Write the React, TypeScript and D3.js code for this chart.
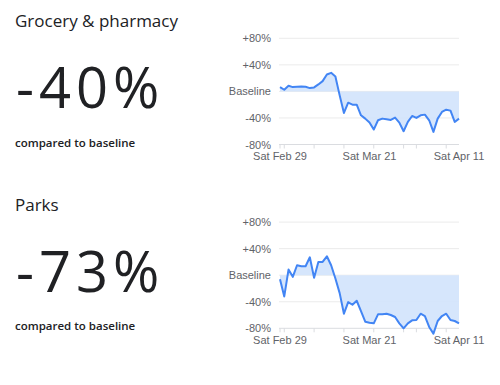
import React, { useEffect, useRef } from 'react';
import * as d3 from 'd3';

// daily values, Sat Feb 29 .. Sat Apr 11 (percent change vs baseline)
const groceryValues = [
  6.5, 2.5, 8.5, 6.5, 7, 7.5, 7, 5, 6, 10.5, 15.5, 25.5, 28, 22.5,
  -6, -32.5, -17, -20, -20, -36, -41, -47, -57.5, -43.5, -41, -42, -43, -39.5,
  -47, -60, -46, -37, -40, -36, -35, -43.5, -61, -41, -31, -27.5, -29, -46, -41,
];
const parksValues = [
  -6, -32, 8.5, -2.5, 15, 13.5, 13.5, 27, -4, 20, 20, 28.5, 15, -5,
  -27, -58, -40.5, -44.5, -38.5, -54, -70, -71.5, -72.5, -59, -59, -58, -60, -63,
  -72.5, -80, -72.5, -68, -67.5, -58, -61.5, -78, -88, -69, -61.5, -58, -67.5, -69, -72.5,
];
const panelTitles = ['Grocery & pharmacy', 'Parks'];
const panelHeadlines = ['-40%', '-73%'];
const yTicks = [80, 40, 0, -40, -80];
const yTickLabels = ['+80%', '+40%', 'Baseline', '-40%', '-80%'];
const xLabelDates = ['2020-02-29', '2020-03-21', '2020-04-11'];

const startDate = new Date(2020, 1, 29);
const endDate = new Date(2020, 3, 11);

const App = () => {
  const ref = useRef<SVGSVGElement>(null);

  useEffect(() => {
    const svg = d3.select(ref.current);
    svg.selectAll('*').remove();

    const days = d3.timeDay.range(startDate, d3.timeDay.offset(endDate, 1));
    const weeks = d3.timeDay.every(7)!.range(startDate, d3.timeDay.offset(endDate, 1));
    const parse = d3.timeParse('%Y-%m-%d');
    const fmt = d3.timeFormat('Sat %b %-d');

    const x = d3.scaleTime().domain([startDate, endDate]).range([280, 459]);
    const y = d3.scaleLinear().domain([-80, 80]).range([144.5, 38.3]);

    const series = [groceryValues, parksValues];

    series.forEach((values, i) => {
      const g = svg.append('g').attr('transform', `translate(0, ${i * 183.8})`);
      const pts = values.map((v, j) => ({ d: days[j], v }));

      // left side text
      g.append('text')
        .attr('x', 15).attr('y', 27)
        .attr('font-family', '"Open Sans", sans-serif')
        .attr('font-size', 17)
        .attr('fill', '#202124')
        .text(panelTitles[i]);
      g.append('text')
        .attr('x', 16).attr('y', 108)
        .attr('font-family', '"Open Sans", sans-serif')
        .attr('font-size', 56)
        .attr('letter-spacing', 5)
        .attr('fill', '#202124')
        .text(panelHeadlines[i]);
      g.append('text')
        .attr('x', 15).attr('y', 146.5)
        .attr('font-family', '"Open Sans", sans-serif')
        .attr('font-size', 11.5)
        .attr('font-weight', 600)
        .attr('fill', '#202124')
        .text('compared to baseline');

      // gridlines + y labels
      g.selectAll('.grid')
        .data(yTicks)
        .enter().append('line')
        .attr('x1', 279).attr('x2', 459)
        .attr('y1', d => y(d)).attr('y2', d => y(d))
        .attr('stroke', d => (d === -80 ? '#dadce0' : '#ebebeb'))
        .attr('stroke-width', 1);

      g.selectAll('.ylab')
        .data(yTicks)
        .enter().append('text')
        .attr('x', 271)
        .attr('y', d => y(d) + 4)
        .attr('text-anchor', 'end')
        .attr('font-family', 'Arial, "Liberation Sans", sans-serif')
        .attr('font-size', 11)
        .attr('fill', '#5f6368')
        .text((d, k) => yTickLabels[k]);

      // week ticks
      g.selectAll('.xtick')
        .data(weeks)
        .enter().append('line')
        .attr('x1', d => x(d)).attr('x2', d => x(d))
        .attr('y1', y(-80)).attr('y2', y(-80) + 4)
        .attr('stroke', '#dadce0');

      g.selectAll('.xlab')
        .data(xLabelDates.map(s => parse(s)!))
        .enter().append('text')
        .attr('x', d => x(d))
        .attr('y', 160)
        .attr('text-anchor', 'middle')
        .attr('font-family', 'Arial, "Liberation Sans", sans-serif')
        .attr('font-size', 11)
        .attr('fill', '#5f6368')
        .text(d => fmt(d));

      // area between line and baseline
      const area = d3.area<{ d: Date; v: number }>()
        .x(p => x(p.d))
        .y0(y(0))
        .y1(p => y(p.v));
      g.append('path')
        .datum(pts)
        .attr('d', area)
        .attr('fill', '#d2e3fc')
        .attr('opacity', 0.9);

      const line = d3.line<{ d: Date; v: number }>()
        .x(p => x(p.d))
        .y(p => y(p.v));
      g.append('path')
        .datum(pts)
        .attr('d', line)
        .attr('fill', 'none')
        .attr('stroke', '#4285f4')
        .attr('stroke-width', 2)
        .attr('stroke-linejoin', 'round');
    });
  }, []);

  return (
    <svg ref={ref} width={500} height={385}
      style={{ position: 'absolute', left: 0, top: 0, background: '#fff' }} />
  );
};

export default App;
